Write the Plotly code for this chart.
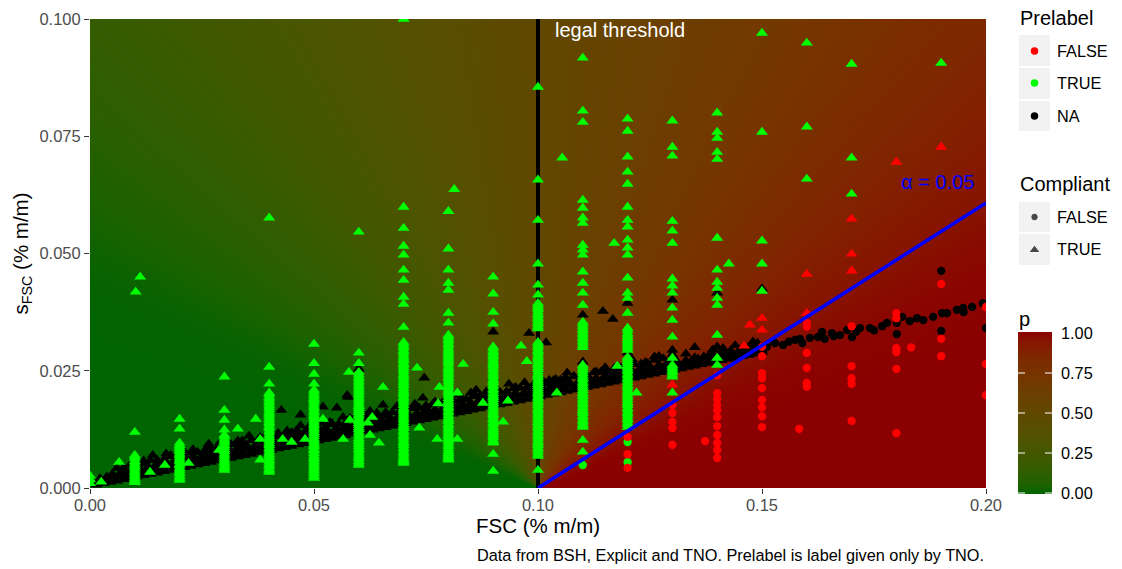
import math
import numpy as np
import plotly.graph_objects as go

# ---------------- axes / scale labels ----------------
x_ticks = [0.0, 0.05, 0.10, 0.15, 0.20]
x_tick_labels = ["0.00", "0.05", "0.10", "0.15", "0.20"]
y_ticks = [0.0, 0.025, 0.05, 0.075, 0.10]
y_tick_labels = ["0.000", "0.025", "0.050", "0.075", "0.100"]
p_ticks = [0.0, 0.25, 0.50, 0.75, 1.0]
p_tick_labels = ["0.00", "0.25", "0.50", "0.75", "1.00"]

legal_limit = 0.10      # FSC legal threshold (% m/m)
alpha = 0.05            # one-sided test level
z_alpha = 1.6449        # normal quantile for 1 - alpha
low_colour = "#006400"  # p = 0
high_colour = "#8B0000" # p = 1

# ---------------- NA prelabel, compliant (black triangles) ----------------
# lower edge of the dense band
band_a_x = [0.0015, 0.0030, 0.0045, 0.0060, 0.0075, 0.0090, 0.0105, 0.0120, 0.0135, 0.0150,
            0.0165, 0.0180, 0.0195, 0.0210, 0.0225, 0.0240, 0.0255, 0.0270, 0.0285, 0.0300,
            0.0315, 0.0330, 0.0345, 0.0360, 0.0375, 0.0390, 0.0405, 0.0420, 0.0435, 0.0450,
            0.0465, 0.0480, 0.0495, 0.0510, 0.0525, 0.0540, 0.0555, 0.0570, 0.0585, 0.0600,
            0.0615, 0.0630, 0.0645, 0.0660, 0.0675, 0.0690, 0.0705, 0.0720, 0.0735, 0.0750,
            0.0765, 0.0780, 0.0795, 0.0810, 0.0825, 0.0840, 0.0855, 0.0870, 0.0885, 0.0900,
            0.0915, 0.0930, 0.0945, 0.0960, 0.0975, 0.0990, 0.1005, 0.1020, 0.1035, 0.1050,
            0.1065, 0.1080, 0.1095, 0.1110, 0.1125, 0.1140, 0.1155, 0.1170, 0.1185, 0.1200,
            0.1215, 0.1230, 0.1245, 0.1260, 0.1275, 0.1290, 0.1305, 0.1320, 0.1335, 0.1350,
            0.1365, 0.1380, 0.1395, 0.1410, 0.1425, 0.1440, 0.1455, 0.1470, 0.1485, 0.1500]
band_a_s = [0.00069, 0.00097, 0.00126, 0.00154, 0.00183, 0.00211, 0.00240, 0.00268, 0.00297, 0.00325,
            0.00354, 0.00382, 0.00411, 0.00439, 0.00468, 0.00496, 0.00525, 0.00553, 0.00582, 0.00610,
            0.00639, 0.00667, 0.00696, 0.00724, 0.00753, 0.00781, 0.00810, 0.00838, 0.00867, 0.00895,
            0.00924, 0.00952, 0.00981, 0.01009, 0.01038, 0.01066, 0.01095, 0.01123, 0.01152, 0.01180,
            0.01209, 0.01237, 0.01266, 0.01294, 0.01323, 0.01351, 0.01380, 0.01408, 0.01437, 0.01465,
            0.01494, 0.01522, 0.01551, 0.01579, 0.01608, 0.01636, 0.01665, 0.01693, 0.01722, 0.01750,
            0.01779, 0.01807, 0.01836, 0.01864, 0.01893, 0.01921, 0.01950, 0.01978, 0.02007, 0.02035,
            0.02064, 0.02092, 0.02121, 0.02149, 0.02178, 0.02206, 0.02235, 0.02263, 0.02292, 0.02320,
            0.02349, 0.02377, 0.02406, 0.02434, 0.02463, 0.02491, 0.02520, 0.02548, 0.02577, 0.02605,
            0.02634, 0.02662, 0.02691, 0.02719, 0.02748, 0.02776, 0.02805, 0.02833, 0.02862, 0.02890]

band_lo_x = [0.002, 0.004, 0.006, 0.008, 0.010, 0.012, 0.014, 0.016, 0.018, 0.020,
             0.022, 0.024, 0.026, 0.028, 0.030, 0.032, 0.034, 0.036, 0.038, 0.040,
             0.042, 0.044, 0.046, 0.048, 0.050, 0.052, 0.054, 0.056, 0.058, 0.060,
             0.062, 0.064, 0.066, 0.068, 0.070, 0.072, 0.074, 0.076, 0.078, 0.080,
             0.082, 0.084, 0.086, 0.088, 0.090, 0.092, 0.094, 0.096, 0.098, 0.100,
             0.102, 0.104, 0.106, 0.108, 0.110, 0.112, 0.114, 0.116, 0.118, 0.120,
             0.122, 0.124, 0.126, 0.128, 0.130, 0.132, 0.134, 0.136, 0.138, 0.140,
             0.142, 0.144, 0.146, 0.148, 0.150]
band_lo_s = [0.0013, 0.0017, 0.0020, 0.0024, 0.0028, 0.0032, 0.0036, 0.0039, 0.0043, 0.0047,
             0.0051, 0.0055, 0.0058, 0.0062, 0.0066, 0.0070, 0.0074, 0.0077, 0.0081, 0.0085,
             0.0089, 0.0093, 0.0096, 0.0100, 0.0104, 0.0108, 0.0112, 0.0115, 0.0119, 0.0123,
             0.0127, 0.0131, 0.0134, 0.0138, 0.0142, 0.0146, 0.0150, 0.0153, 0.0157, 0.0161,
             0.0165, 0.0169, 0.0172, 0.0176, 0.0180, 0.0184, 0.0188, 0.0191, 0.0195, 0.0199,
             0.0203, 0.0207, 0.0210, 0.0214, 0.0218, 0.0222, 0.0226, 0.0229, 0.0233, 0.0237,
             0.0241, 0.0245, 0.0248, 0.0252, 0.0256, 0.0260, 0.0264, 0.0267, 0.0271, 0.0275,
             0.0279, 0.0283, 0.0286, 0.0290, 0.0294]

band_b_x = [0.00225, 0.00375, 0.00525, 0.00675, 0.00825, 0.00975, 0.01125, 0.01275, 0.01425, 0.01575,
            0.01725, 0.01875, 0.02025, 0.02175, 0.02325, 0.02475, 0.02625, 0.02775, 0.02925, 0.03075,
            0.03225, 0.03375, 0.03525, 0.03675, 0.03825, 0.03975, 0.04125, 0.04275, 0.04425, 0.04575,
            0.04725, 0.04875, 0.05025, 0.05175, 0.05325, 0.05475, 0.05625, 0.05775, 0.05925, 0.06075,
            0.06225, 0.06375, 0.06525, 0.06675, 0.06825, 0.06975, 0.07125, 0.07275, 0.07425, 0.07575,
            0.07725, 0.07875, 0.08025, 0.08175, 0.08325, 0.08475, 0.08625, 0.08775, 0.08925, 0.09075,
            0.09225, 0.09375, 0.09525, 0.09675, 0.09825, 0.09975, 0.10125, 0.10275, 0.10425, 0.10575,
            0.10725, 0.10875, 0.11025, 0.11175, 0.11325, 0.11475, 0.11625, 0.11775, 0.11925, 0.12075,
            0.12225, 0.12375, 0.12525, 0.12675, 0.12825, 0.12975, 0.13125, 0.13275, 0.13425, 0.13575,
            0.13725, 0.13875, 0.14025, 0.14175, 0.14325, 0.14475, 0.14625, 0.14775, 0.14925]
band_b_s = [0.00203, 0.00240, 0.00260, 0.00280, 0.00317, 0.00356, 0.00374, 0.00395, 0.00431, 0.00470,
            0.00488, 0.00508, 0.00545, 0.00584, 0.00602, 0.00622, 0.00659, 0.00698, 0.00716, 0.00736,
            0.00773, 0.00812, 0.00830, 0.00850, 0.00887, 0.00926, 0.00944, 0.00964, 0.01001, 0.01040,
            0.01058, 0.01078, 0.01115, 0.01154, 0.01172, 0.01192, 0.01229, 0.01268, 0.01286, 0.01306,
            0.01343, 0.01382, 0.01400, 0.01420, 0.01457, 0.01496, 0.01514, 0.01534, 0.01571, 0.01610,
            0.01628, 0.01648, 0.01685, 0.01724, 0.01742, 0.01762, 0.01799, 0.01838, 0.01856, 0.01876,
            0.01913, 0.01952, 0.01970, 0.01990, 0.02027, 0.02066, 0.02084, 0.02104, 0.02141, 0.02180,
            0.02198, 0.02218, 0.02255, 0.02294, 0.02312, 0.02332, 0.02369, 0.02408, 0.02426, 0.02446,
            0.02483, 0.02522, 0.02540, 0.02560, 0.02597, 0.02636, 0.02654, 0.02674, 0.02711, 0.02750,
            0.02768, 0.02788, 0.02825, 0.02864, 0.02882, 0.02902, 0.02939, 0.02978, 0.02996]

band_c_x = [0.005, 0.007, 0.009, 0.011, 0.013, 0.015, 0.017, 0.019, 0.021, 0.023,
            0.025, 0.027, 0.029, 0.031, 0.033, 0.035, 0.037, 0.039, 0.041, 0.043,
            0.045, 0.047, 0.049, 0.051, 0.053, 0.055, 0.057, 0.059, 0.061, 0.063,
            0.065, 0.067, 0.069, 0.071, 0.073, 0.075, 0.077, 0.079, 0.081, 0.083,
            0.085, 0.087, 0.089, 0.091, 0.093, 0.095, 0.097, 0.099, 0.101, 0.103,
            0.105, 0.107, 0.109, 0.111, 0.113, 0.115, 0.117, 0.119, 0.121, 0.123,
            0.125, 0.127, 0.129, 0.131, 0.133, 0.135, 0.137, 0.139, 0.141, 0.143,
            0.145, 0.147, 0.149]
band_c_s = [0.0030, 0.0035, 0.0037, 0.0043, 0.0045, 0.0052, 0.0054, 0.0060, 0.0062, 0.0068,
            0.0069, 0.0075, 0.0077, 0.0083, 0.0085, 0.0090, 0.0092, 0.0098, 0.0099, 0.0106,
            0.0107, 0.0113, 0.0115, 0.0120, 0.0122, 0.0128, 0.0130, 0.0135, 0.0137, 0.0143,
            0.0145, 0.0150, 0.0152, 0.0158, 0.0160, 0.0165, 0.0167, 0.0173, 0.0175, 0.0180,
            0.0182, 0.0188, 0.0190, 0.0195, 0.0197, 0.0203, 0.0205, 0.0210, 0.0212, 0.0218,
            0.0220, 0.0225, 0.0227, 0.0233, 0.0235, 0.0240, 0.0242, 0.0248, 0.0250, 0.0255,
            0.0257, 0.0263, 0.0265, 0.0270, 0.0272, 0.0278, 0.0280, 0.0285, 0.0287, 0.0293,
            0.0295, 0.0300, 0.0302]

band_d_x = [0.0060, 0.0075, 0.0090, 0.0105, 0.0120, 0.0135, 0.0150, 0.0165, 0.0180, 0.0195,
            0.0210, 0.0225, 0.0240, 0.0255, 0.0270, 0.0285, 0.0300, 0.0315, 0.0330, 0.0345,
            0.0360, 0.0375, 0.0390, 0.0405, 0.0420, 0.0435, 0.0450, 0.0465, 0.0480, 0.0495,
            0.0510, 0.0525, 0.0540, 0.0555, 0.0570, 0.0585, 0.0600, 0.0615, 0.0630, 0.0645,
            0.0660, 0.0675, 0.0690, 0.0705, 0.0720, 0.0735, 0.0750, 0.0765, 0.0780, 0.0795,
            0.0810, 0.0825, 0.0840, 0.0855, 0.0870, 0.0885, 0.0900, 0.0915, 0.0930, 0.0945,
            0.0960, 0.0975, 0.0990, 0.1005, 0.1020, 0.1035, 0.1050, 0.1065, 0.1080, 0.1095,
            0.1110, 0.1125, 0.1140, 0.1155, 0.1170, 0.1185, 0.1200, 0.1215, 0.1230, 0.1245,
            0.1260]
band_d_s = [0.00424, 0.00433, 0.00501, 0.00510, 0.00518, 0.00587, 0.00595, 0.00604, 0.00672, 0.00681,
            0.00689, 0.00758, 0.00766, 0.00775, 0.00843, 0.00852, 0.00860, 0.00929, 0.00937, 0.00946,
            0.01014, 0.01023, 0.01031, 0.01100, 0.01108, 0.01117, 0.01185, 0.01194, 0.01202, 0.01271,
            0.01279, 0.01288, 0.01356, 0.01365, 0.01373, 0.01442, 0.01450, 0.01459, 0.01527, 0.01536,
            0.01544, 0.01613, 0.01621, 0.01630, 0.01698, 0.01707, 0.01715, 0.01784, 0.01792, 0.01801,
            0.01869, 0.01878, 0.01886, 0.01955, 0.01963, 0.01972, 0.02040, 0.02049, 0.02057, 0.02126,
            0.02134, 0.02143, 0.02211, 0.02220, 0.02228, 0.02297, 0.02305, 0.02314, 0.02382, 0.02391,
            0.02399, 0.02468, 0.02476, 0.02485, 0.02553, 0.02562, 0.02570, 0.02639, 0.02647, 0.02656,
            0.02724]

band_e_x = [0.0105, 0.0140, 0.0170, 0.0230, 0.0265, 0.0290, 0.0330, 0.0355, 0.0395, 0.0440,
            0.0470, 0.0515, 0.0535, 0.0565, 0.0600, 0.0640, 0.0685, 0.0725, 0.0770, 0.0810,
            0.0850, 0.0885, 0.0935, 0.0970, 0.1010, 0.1065, 0.1100, 0.1150, 0.1210, 0.1260,
            0.1300, 0.1350]
band_e_s = [0.0058, 0.0070, 0.0073, 0.0082, 0.0094, 0.0096, 0.0101, 0.0111, 0.0116, 0.0122,
            0.0133, 0.0139, 0.0140, 0.0151, 0.0155, 0.0160, 0.0174, 0.0179, 0.0184, 0.0198,
            0.0203, 0.0206, 0.0222, 0.0225, 0.0230, 0.0246, 0.0250, 0.0257, 0.0274, 0.0280,
            0.0285, 0.0300]

band_top_x = [0.012, 0.018, 0.021, 0.026, 0.031, 0.034, 0.038, 0.042, 0.046, 0.049,
              0.054, 0.058, 0.062, 0.066, 0.071, 0.075, 0.079, 0.083, 0.086, 0.091,
              0.095, 0.104, 0.108, 0.113, 0.118, 0.124, 0.128, 0.133, 0.139, 0.144, 0.148]
band_top_s = [0.0058, 0.0070, 0.0078, 0.0085, 0.0093, 0.0101, 0.0108, 0.0117, 0.0122, 0.0132,
              0.0138, 0.0149, 0.0153, 0.0161, 0.0170, 0.0176, 0.0186, 0.0192, 0.0197, 0.0206,
              0.0215, 0.0232, 0.0238, 0.0248, 0.0258, 0.0268, 0.0276, 0.0286, 0.0295, 0.0304, 0.0312]

black_tri_x = [0.0427, 0.047, 0.052, 0.0551, 0.0574, 0.0576, 0.0654, 0.0625, 0.073, 0.0746,
               0.0743, 0.0862, 0.090, 0.098, 0.1018, 0.1025, 0.1042, 0.1145, 0.1167, 0.127,
               0.115, 0.106, 0.138, 0.1413, 0.149, 0.1529, 0.12, 0.12, 0.13, 0.13,
               0.14, 0.14, 0.11, 0.11, 0.06, 0.08, 0.09, 0.10, 0.15]
black_tri_s = [0.0166, 0.0156, 0.0173, 0.0171, 0.0198, 0.0194, 0.0177, 0.0164, 0.0175, 0.0235,
               0.0192, 0.0209, 0.0333, 0.0330, 0.0310, 0.0230, 0.0226, 0.0377, 0.0360, 0.0281,
               0.0247, 0.0234, 0.0281, 0.0298, 0.0309, 0.0311, 0.0394, 0.0288, 0.0401, 0.0294,
               0.0416, 0.0301, 0.0269, 0.0369, 0.0254, 0.0220, 0.0235, 0.0250, 0.0425]

# ---------------- NA prelabel, not compliant (black dots) ----------------
black_dot_x = [0.1484, 0.1511, 0.1529, 0.1547, 0.1560, 0.1574, 0.1585, 0.1590, 0.1607, 0.1625,
               0.1634, 0.1640, 0.1656, 0.1660, 0.1674, 0.1690, 0.1701, 0.1710, 0.1719, 0.1741,
               0.1750, 0.1768, 0.1779, 0.1801, 0.1813, 0.1830, 0.1846, 0.1860, 0.1882, 0.1902,
               0.1913, 0.1935, 0.1949, 0.1950, 0.1969, 0.1993, 0.2000, 0.1801, 0.1900, 0.1900]
black_dot_s = [0.0294, 0.0301, 0.0309, 0.0305, 0.0312, 0.0316, 0.0318, 0.0309, 0.0320, 0.0322,
               0.0333, 0.0318, 0.0330, 0.0324, 0.0326, 0.0337, 0.0322, 0.0333, 0.0341, 0.0341,
               0.0336, 0.0345, 0.0352, 0.0352, 0.0365, 0.0356, 0.0362, 0.0358, 0.0365, 0.0373,
               0.0373, 0.0380, 0.0384, 0.0375, 0.0386, 0.0394, 0.0341, 0.0328, 0.0335, 0.0463]

# ---------------- prelabel TRUE, compliant (green triangles), by FSC level ----------------
g_000 = [0.0010, 0.0018, 0.0026]
g_010 = [0.0119, 0.0070, 0.0066, 0.0062, 0.0057, 0.0053, 0.0049, 0.0045, 0.0041, 0.0036,
         0.0032, 0.0028, 0.0024, 0.0020, 0.0016, 0.0012]
g_020 = [0.0147, 0.0126, 0.0096, 0.0091, 0.0087, 0.0083, 0.0078, 0.0073, 0.0069, 0.0064,
         0.0060, 0.0056, 0.0051, 0.0047, 0.0042, 0.0038, 0.0034, 0.0030, 0.0025, 0.0021, 0.0017]
g_030 = [0.0237, 0.0166, 0.0145, 0.0124, 0.0113, 0.0109, 0.0104, 0.0100, 0.0096, 0.0091,
         0.0087, 0.0082, 0.0078, 0.0073, 0.0069, 0.0064, 0.0060, 0.0055, 0.0051, 0.0046,
         0.0042, 0.0038]
g_040 = [0.0576, 0.0258, 0.0222, 0.0203, 0.0199, 0.0194, 0.0190, 0.0185, 0.0181, 0.0176,
         0.0172, 0.0167, 0.0162, 0.0158, 0.0154, 0.0149, 0.0145, 0.0140, 0.0136, 0.0131,
         0.0127, 0.0122, 0.0118, 0.0113, 0.0108, 0.0104, 0.0100, 0.0095, 0.0091, 0.0086,
         0.0082, 0.0077, 0.0072, 0.0068, 0.0064, 0.0059, 0.0055, 0.0050, 0.0046, 0.0041,
         0.0038, 0.0034]
g_050 = [0.0307, 0.0266, 0.0243, 0.0222, 0.0209, 0.0205, 0.0200, 0.0196, 0.0191, 0.0187,
         0.0182, 0.0177, 0.0173, 0.0169, 0.0164, 0.0160, 0.0155, 0.0151, 0.0146, 0.0141,
         0.0137, 0.0133, 0.0128, 0.0124, 0.0119, 0.0115, 0.0110, 0.0105, 0.0101, 0.0097,
         0.0092, 0.0088, 0.0083, 0.0079, 0.0074, 0.0069, 0.0065, 0.0061, 0.0056, 0.0052,
         0.0047, 0.0043, 0.0038, 0.0034, 0.0030, 0.0025, 0.0021]
g_060 = [0.0546, 0.0288, 0.0266, 0.0247, 0.0242, 0.0237, 0.0233, 0.0228, 0.0224, 0.0219,
         0.0214, 0.0210, 0.0206, 0.0201, 0.0197, 0.0192, 0.0188, 0.0183, 0.0178, 0.0174,
         0.0170, 0.0165, 0.0161, 0.0156, 0.0152, 0.0147, 0.0142, 0.0138, 0.0134, 0.0129,
         0.0125, 0.0120, 0.0116, 0.0111, 0.0106, 0.0102, 0.0098, 0.0093, 0.0089, 0.0084,
         0.0080, 0.0075, 0.0070, 0.0066, 0.0062, 0.0057, 0.0053, 0.0049]
g_070 = [0.1000, 0.0599, 0.0554, 0.0516, 0.0497, 0.0465, 0.0443, 0.0407, 0.0392, 0.0343,
         0.0311, 0.0307, 0.0302, 0.0298, 0.0293, 0.0289, 0.0284, 0.0279, 0.0275, 0.0271,
         0.0266, 0.0262, 0.0257, 0.0253, 0.0248, 0.0243, 0.0239, 0.0235, 0.0230, 0.0226,
         0.0221, 0.0217, 0.0212, 0.0207, 0.0203, 0.0199, 0.0194, 0.0190, 0.0185, 0.0181,
         0.0176, 0.0171, 0.0167, 0.0163, 0.0158, 0.0154, 0.0149, 0.0145, 0.0140, 0.0135,
         0.0131, 0.0127, 0.0122, 0.0118, 0.0113, 0.0109, 0.0104, 0.0099, 0.0095, 0.0091,
         0.0086, 0.0082, 0.0077, 0.0073, 0.0068, 0.0063, 0.0059, 0.0056, 0.0053]
g_080 = [0.0590, 0.0510, 0.0465, 0.0437, 0.0422, 0.0373, 0.0352, 0.0326, 0.0322, 0.0317,
         0.0313, 0.0308, 0.0304, 0.0299, 0.0294, 0.0290, 0.0286, 0.0281, 0.0277, 0.0272,
         0.0268, 0.0263, 0.0258, 0.0254, 0.0250, 0.0245, 0.0241, 0.0236, 0.0232, 0.0227,
         0.0222, 0.0218, 0.0214, 0.0209, 0.0205, 0.0200, 0.0196, 0.0191, 0.0186, 0.0182,
         0.0178, 0.0173, 0.0169, 0.0164, 0.0160, 0.0155, 0.0150, 0.0146, 0.0142, 0.0137,
         0.0133, 0.0128, 0.0124, 0.0119, 0.0114, 0.0110, 0.0106, 0.0101, 0.0097, 0.0092,
         0.0088, 0.0083, 0.0078, 0.0074, 0.0070, 0.0067, 0.0063, 0.0060]
g_090 = [0.0450, 0.0414, 0.0375, 0.0350, 0.0301, 0.0297, 0.0292, 0.0288, 0.0283, 0.0279,
         0.0274, 0.0269, 0.0265, 0.0261, 0.0256, 0.0252, 0.0247, 0.0243, 0.0238, 0.0233,
         0.0229, 0.0225, 0.0220, 0.0216, 0.0211, 0.0207, 0.0202, 0.0197, 0.0193, 0.0189,
         0.0184, 0.0180, 0.0175, 0.0171, 0.0166, 0.0161, 0.0157, 0.0153, 0.0148, 0.0144,
         0.0139, 0.0135, 0.0130, 0.0125, 0.0121, 0.0117, 0.0112, 0.0108, 0.0103, 0.0099,
         0.0096, 0.0072, 0.0036]
g_100 = [0.0855, 0.0657, 0.0571, 0.0478, 0.0433, 0.0412, 0.0394, 0.0390, 0.0385, 0.0381,
         0.0376, 0.0371, 0.0367, 0.0362, 0.0358, 0.0353, 0.0349, 0.0344, 0.0340, 0.0311,
         0.0307, 0.0302, 0.0298, 0.0293, 0.0289, 0.0284, 0.0279, 0.0275, 0.0271, 0.0266,
         0.0262, 0.0257, 0.0253, 0.0248, 0.0243, 0.0239, 0.0235, 0.0230, 0.0226, 0.0221,
         0.0217, 0.0212, 0.0207, 0.0203, 0.0199, 0.0194, 0.0190, 0.0185, 0.0181, 0.0176,
         0.0171, 0.0167, 0.0163, 0.0158, 0.0154, 0.0149, 0.0145, 0.0140, 0.0135, 0.0131,
         0.0127, 0.0122, 0.0118, 0.0113, 0.0109, 0.0104, 0.0099, 0.0095, 0.0091, 0.0086,
         0.0082, 0.0077, 0.0072, 0.0068, 0.0038]
g_110 = [0.0917, 0.0804, 0.0780, 0.0614, 0.0597, 0.0576, 0.0565, 0.0518, 0.0508, 0.0497,
         0.0461, 0.0437, 0.0416, 0.0390, 0.0354, 0.0350, 0.0345, 0.0341, 0.0336, 0.0331,
         0.0327, 0.0322, 0.0318, 0.0313, 0.0309, 0.0304, 0.0300, 0.0262, 0.0258, 0.0253,
         0.0249, 0.0244, 0.0239, 0.0235, 0.0231, 0.0226, 0.0222, 0.0217, 0.0213, 0.0208,
         0.0203, 0.0199, 0.0195, 0.0190, 0.0186, 0.0181, 0.0177, 0.0172, 0.0167, 0.0163,
         0.0159, 0.0154, 0.0150, 0.0145, 0.0141, 0.0136, 0.0133, 0.0130, 0.0102, 0.0077]
g_120 = [0.0787, 0.0761, 0.0706, 0.0674, 0.0648, 0.0599, 0.0571, 0.0557, 0.0529, 0.0512,
         0.0497, 0.0448, 0.0416, 0.0405, 0.0373, 0.0341, 0.0336, 0.0330, 0.0326, 0.0321,
         0.0317, 0.0312, 0.0308, 0.0303, 0.0298, 0.0294, 0.0279, 0.0275, 0.0270, 0.0266,
         0.0261, 0.0256, 0.0252, 0.0248, 0.0243, 0.0239, 0.0234, 0.0230, 0.0225, 0.0220,
         0.0216, 0.0212, 0.0207, 0.0203, 0.0198, 0.0194, 0.0189, 0.0184, 0.0180, 0.0176,
         0.0171, 0.0167, 0.0162, 0.0158, 0.0153, 0.0148, 0.0144, 0.0139, 0.0135, 0.0130]
g_130 = [0.0783, 0.0727, 0.0708, 0.0569, 0.0548, 0.0522, 0.0446, 0.0431, 0.0416, 0.0384,
         0.0358, 0.0322, 0.0277, 0.0262, 0.0258, 0.0254, 0.0250, 0.0246, 0.0241, 0.0237, 0.0203]
g_140 = [0.0800, 0.0759, 0.0746, 0.0716, 0.0701, 0.0533, 0.0465, 0.0439, 0.0426, 0.0405,
         0.0390, 0.0326, 0.0277, 0.0262]
g_150 = [0.0970, 0.0759, 0.0527, 0.0478, 0.0420]
g_160 = [0.0949, 0.0770, 0.0659]
g_170 = [0.0904, 0.0704, 0.0627]
g_190 = [0.0906]

green_off_x = [0.0025, 0.0065, 0.0112, 0.0102, 0.0134, 0.0167, 0.022, 0.0288, 0.033, 0.037,
               0.038, 0.038, 0.043, 0.045, 0.048, 0.052, 0.0578, 0.0654, 0.063, 0.0625,
               0.0645, 0.0565, 0.058, 0.062, 0.073, 0.0735, 0.0833, 0.082, 0.078, 0.0777,
               0.0775, 0.082, 0.0877, 0.0922, 0.0933, 0.0962, 0.0975, 0.1042, 0.1177, 0.122,
               0.1054, 0.117, 0.1426, 0.0813]
green_off_s = [0.0013, 0.0055, 0.0450, 0.0418, 0.0034, 0.0049, 0.0053, 0.0081, 0.0126, 0.0147,
               0.0104, 0.0060, 0.0104, 0.0098, 0.0104, 0.0147, 0.0247, 0.0215, 0.0151, 0.0113,
               0.0096, 0.0104, 0.0145, 0.0139, 0.0256, 0.0128, 0.0264, 0.0203, 0.0215, 0.0180,
               0.0104, 0.0104, 0.0181, 0.0141, 0.0186, 0.0303, 0.0270, 0.0203, 0.0260, 0.0203,
               0.0704, 0.0522, 0.0478, 0.0637]

# prelabel TRUE, not compliant (green dots)
green_dot_x = [0.11, 0.12, 0.12]
green_dot_s = [0.0049, 0.0098, 0.0055]

# prelabel FALSE, compliant (red triangles)
red_tri_x = [0.13, 0.146, 0.1473, 0.15, 0.15, 0.16, 0.16, 0.17, 0.17, 0.17, 0.18, 0.19]
red_tri_s = [0.0220, 0.0303, 0.0348, 0.0362, 0.0337, 0.0456, 0.0373, 0.0574, 0.0499, 0.0463,
             0.0695, 0.0727]

# prelabel FALSE, not compliant (red dots), by FSC level
r_120 = [0.0109, 0.0072, 0.0043]
r_130 = [0.0177, 0.0160, 0.0141, 0.0128, 0.0092]
r_140 = [0.0240, 0.0202, 0.0190, 0.0177, 0.0166, 0.0151, 0.0132, 0.0113, 0.0096, 0.0081, 0.0064]
r_150 = [0.0301, 0.0281, 0.0245, 0.0234, 0.0213, 0.0188, 0.0172, 0.0153, 0.0130]
r_160 = [0.0352, 0.0344, 0.0288, 0.0256, 0.0224, 0.0216]
r_170 = [0.0345, 0.0260, 0.0234, 0.0222, 0.0143]
r_180 = [0.0373, 0.0362, 0.0298, 0.0290, 0.0254, 0.0117]
r_190 = [0.0435, 0.0318, 0.0281]
r_200 = [0.0386, 0.0264, 0.0198]
red_off_x = [0.1373, 0.1583, 0.1833]
red_off_s = [0.0100, 0.0126, 0.0300]


def stack(levels):
    xs, ss = [], []
    for lvl, vals in levels:
        xs += [lvl] * len(vals)
        ss += list(vals)
    return xs, ss


green_x, green_s = stack([(0.00, g_000), (0.01, g_010), (0.02, g_020), (0.03, g_030),
                          (0.04, g_040), (0.05, g_050), (0.06, g_060), (0.07, g_070),
                          (0.08, g_080), (0.09, g_090), (0.10, g_100), (0.11, g_110),
                          (0.12, g_120), (0.13, g_130), (0.14, g_140), (0.15, g_150),
                          (0.16, g_160), (0.17, g_170), (0.19, g_190)])
green_x += green_off_x
green_s += green_off_s

red_x, red_s = stack([(0.12, r_120), (0.13, r_130), (0.14, r_140), (0.15, r_150),
                      (0.16, r_160), (0.17, r_170), (0.18, r_180), (0.19, r_190),
                      (0.20, r_200)])
red_x += red_off_x
red_s += red_off_s

black_tri_all_x = (band_a_x + band_lo_x + band_b_x + band_c_x + band_d_x + band_e_x
                   + band_top_x + black_tri_x)
black_tri_all_s = (band_a_s + band_lo_s + band_b_s + band_c_s + band_d_s + band_e_s
                   + band_top_s + black_tri_s)


# ---------------- colour scale interpolated in CIE Lab ----------------
def _hex_rgb(h):
    h = h.lstrip("#")
    return [int(h[i:i + 2], 16) / 255 for i in (0, 2, 4)]


def _to_lab(h):
    rgb = [c / 12.92 if c <= 0.04045 else ((c + 0.055) / 1.055) ** 2.4 for c in _hex_rgb(h)]
    r, g, b = rgb
    X = (0.4124564 * r + 0.3575761 * g + 0.1804375 * b) / 0.95047
    Y = 0.2126729 * r + 0.7151522 * g + 0.0721750 * b
    Z = (0.0193339 * r + 0.1191920 * g + 0.9503041 * b) / 1.08883
    d = 6 / 29
    f = lambda t: t ** (1 / 3) if t > d ** 3 else t / (3 * d * d) + 4 / 29
    fx, fy, fz = f(X), f(Y), f(Z)
    return 116 * fy - 16, 500 * (fx - fy), 200 * (fy - fz)


def _from_lab(L, a, bb):
    d = 6 / 29
    fy = (L + 16) / 116
    fx = fy + a / 500
    fz = fy - bb / 200
    finv = lambda t: t ** 3 if t > d else 3 * d * d * (t - 4 / 29)
    X, Y, Z = 0.95047 * finv(fx), finv(fy), 1.08883 * finv(fz)
    r = 3.2404542 * X - 1.5371385 * Y - 0.4985314 * Z
    g = -0.9692660 * X + 1.8760108 * Y + 0.0415560 * Z
    b = 0.0556434 * X - 0.2040259 * Y + 1.0572252 * Z
    out = []
    for c in (r, g, b):
        c = 12.92 * c if c <= 0.0031308 else 1.055 * max(c, 0) ** (1 / 2.4) - 0.055
        out.append(int(round(min(max(c, 0), 1) * 255)))
    return "rgb({},{},{})".format(*out)


lab_lo, lab_hi = _to_lab(low_colour), _to_lab(high_colour)
colorscale = []
for i in range(21):
    t = i / 20
    colorscale.append([t, _from_lab(*[lo + (hi - lo) * t for lo, hi in zip(lab_lo, lab_hi)])])

# ---------------- probability field p = P(FSC > limit | measured FSC, s) ----------------
fsc_grid = np.linspace(0.0, 0.2, 401)
sd_grid = np.linspace(0.00025, 0.1, 240)
FF, SS = np.meshgrid(fsc_grid, sd_grid)
norm_cdf = np.vectorize(lambda z: 0.5 * (1 + math.erf(z / math.sqrt(2))))
p_field = norm_cdf((FF - legal_limit) / SS)

FONT = "Liberation Sans, Arial, Helvetica, sans-serif"
fig = go.Figure()

fig.add_trace(go.Heatmap(x=fsc_grid, y=sd_grid, z=p_field, colorscale=colorscale,
                         zmin=0, zmax=1, zsmooth="best", showscale=False, hoverinfo="skip"))

# legal threshold
fig.add_trace(go.Scatter(x=[legal_limit, legal_limit], y=[0, 0.1], mode="lines",
                         line=dict(color="black", width=4), hoverinfo="skip", showlegend=False))

TRI = 10.5
DOT = 8.3
fig.add_trace(go.Scatter(x=black_tri_all_x, y=black_tri_all_s, mode="markers",
                         marker=dict(symbol="triangle-up", size=TRI, color="black"), showlegend=False))
fig.add_trace(go.Scatter(x=black_dot_x, y=black_dot_s, mode="markers",
                         marker=dict(symbol="circle", size=DOT, color="black"), showlegend=False))
fig.add_trace(go.Scatter(x=green_x, y=green_s, mode="markers",
                         marker=dict(symbol="triangle-up", size=TRI, color="#00FF00"), showlegend=False))
fig.add_trace(go.Scatter(x=green_dot_x, y=green_dot_s, mode="markers",
                         marker=dict(symbol="circle", size=DOT, color="#00FF00"), showlegend=False))
fig.add_trace(go.Scatter(x=red_tri_x, y=red_tri_s, mode="markers",
                         marker=dict(symbol="triangle-up", size=TRI, color="#FF0000"), showlegend=False))
fig.add_trace(go.Scatter(x=red_x, y=red_s, mode="markers",
                         marker=dict(symbol="circle", size=DOT, color="#FF0000"), showlegend=False))

# decision line for alpha = 0.05
alpha_x = [legal_limit, 0.2]
alpha_s = [(v - legal_limit) / z_alpha for v in alpha_x]
fig.add_trace(go.Scatter(x=alpha_x, y=alpha_s, mode="lines", line=dict(color="#0000FF", width=3.5),
                         hoverinfo="skip", showlegend=False))

# ---------------- figure geometry (pixels) ----------------
FIG_W, FIG_H = 1122, 569
LEFT = 90
PLOT_W = FIG_W - LEFT
PANEL_R, PANEL_T, PANEL_B = 986, 19, 488


def px_x(px):
    return (px - LEFT) / PLOT_W


def px_y(py):
    return (FIG_H - py) / FIG_H


# ---------------- legends drawn in a pixel-space side panel (x2 / y2) ----------------
shapes = []
annotations = []
key_boxes = [(35, 66), (68, 99), (101, 131), (202, 232), (234, 265)]
for top, bot in key_boxes:
    shapes.append(dict(type="rect", xref="x2", yref="y2", x0=1019, x1=1050, y0=top, y1=bot,
                       fillcolor="#F2F2F2", line=dict(width=0), layer="below"))

prelabel_levels = ["FALSE", "TRUE", "NA"]
prelabel_colours = ["#FF0000", "#00FF00", "black"]
prelabel_rows = [51, 83, 116]
compliant_levels = ["FALSE", "TRUE"]
compliant_symbols = ["circle", "triangle-up"]
compliant_rows = [217, 249]

fig.add_trace(go.Scatter(x=[1034.5] * 3, y=prelabel_rows, mode="markers", xaxis="x2", yaxis="y2",
                         marker=dict(symbol="circle", size=7.5, color=prelabel_colours),
                         showlegend=False, hoverinfo="skip"))
fig.add_trace(go.Scatter(x=[1034.5] * 2, y=[217, 250], mode="markers", xaxis="x2", yaxis="y2",
                         marker=dict(symbol=compliant_symbols, size=[7.5, 10], color="black"),
                         showlegend=False, hoverinfo="skip"))

annotations.append(dict(xref="x2", yref="y2", x=1018, y=18, text="Prelabel", showarrow=False,
                        xanchor="left", yanchor="middle", font=dict(size=20, color="black")))
for lab, yy in zip(prelabel_levels, prelabel_rows):
    annotations.append(dict(xref="x2", yref="y2", x=1055, y=yy, text=lab, showarrow=False,
                            xanchor="left", yanchor="middle", font=dict(size=16.3, color="black")))
annotations.append(dict(xref="x2", yref="y2", x=1018, y=184, text="Compliant", showarrow=False,
                        xanchor="left", yanchor="middle", font=dict(size=20, color="black")))
for lab, yy in zip(compliant_levels, compliant_rows):
    annotations.append(dict(xref="x2", yref="y2", x=1055, y=yy, text=lab, showarrow=False,
                            xanchor="left", yanchor="middle", font=dict(size=16.3, color="black")))

# colour bar for p
bar_top, bar_bot = 332, 494
n_bins = 120
bar_edges = [bar_bot + (bar_top - bar_bot) * i / n_bins for i in range(n_bins + 1)]
bar_vals = [[(i + 0.5) / n_bins] for i in range(n_bins)]
fig.add_trace(go.Heatmap(x=[1018, 1052], y=bar_edges, z=bar_vals, xaxis="x2", yaxis="y2",
                         colorscale=colorscale, zmin=0, zmax=1, showscale=False, hoverinfo="skip"))
for pv, lab in zip(p_ticks, p_tick_labels):
    yy = bar_bot - 1 + (bar_top + 1 - (bar_bot - 1)) * pv
    if pv < 1:
        for xa, xb in ((1018, 1025), (1045, 1052)):
            shapes.append(dict(type="line", xref="x2", yref="y2", x0=xa, x1=xb, y0=yy, y1=yy,
                               line=dict(color="white", width=1), layer="above"))
    annotations.append(dict(xref="x2", yref="y2", x=1059, y=yy, text=lab, showarrow=False,
                            xanchor="left", yanchor="middle", font=dict(size=16.3, color="black")))
annotations.append(dict(xref="x2", yref="y2", x=1017, y=319, text="p", showarrow=False,
                        xanchor="left", yanchor="middle", font=dict(size=20, color="black")))

# ---------------- in-panel labels and caption ----------------
annotations.append(dict(xref="x", yref="y", x=0.1033, y=0.0977, text="legal threshold",
                        showarrow=False, xanchor="left", yanchor="middle",
                        font=dict(size=20, color="white")))
annotations.append(dict(xref="x", yref="y", x=0.1977, y=0.0652, text="α = 0.05",
                        showarrow=False, xanchor="right", yanchor="middle",
                        font=dict(size=20, color="#0000FF")))
annotations.append(dict(xref="paper", yref="paper", x=px_x(PANEL_R), y=px_y(555),
                        text="Data from BSH, Explicit and TNO. Prelabel is label given only by TNO.",
                        showarrow=False, xanchor="right", yanchor="middle",
                        font=dict(size=16.3, color="black")))

axis_common = dict(showgrid=False, zeroline=False, showline=False, ticks="outside", ticklen=5,
                   tickwidth=1.1, tickcolor="#333333", tickfont=dict(size=16.5, color="#4D4D4D"),
                   fixedrange=True)

fig.update_layout(
    width=FIG_W, height=FIG_H,
    margin=dict(l=LEFT, r=0, t=0, b=0, autoexpand=False),
    paper_bgcolor="white", plot_bgcolor="white",
    font=dict(family=FONT, color="black"),
    showlegend=False,
    xaxis=dict(domain=[0, px_x(PANEL_R)], range=[0, 0.2], tickvals=x_ticks, ticktext=x_tick_labels,
               title=dict(text="FSC (% m/m)", font=dict(size=20.5, color="black"), standoff=1),
               ticklabelstandoff=-3, anchor="y", **axis_common),
    yaxis=dict(domain=[px_y(PANEL_B), px_y(PANEL_T)], range=[0, 0.1], tickvals=y_ticks,
               ticktext=y_tick_labels,
               title=dict(text="s<sub>FSC</sub> (% m/m)", font=dict(size=20.5, color="black"),
                          standoff=5),
               anchor="x", **axis_common),
    xaxis2=dict(domain=[px_x(1000), 1], range=[1000, FIG_W], visible=False, anchor="y2",
                fixedrange=True),
    yaxis2=dict(domain=[0, 1], range=[FIG_H, 0], visible=False, anchor="x2", fixedrange=True),
    shapes=shapes,
    annotations=annotations,
)

fig.write_html("out.html")
